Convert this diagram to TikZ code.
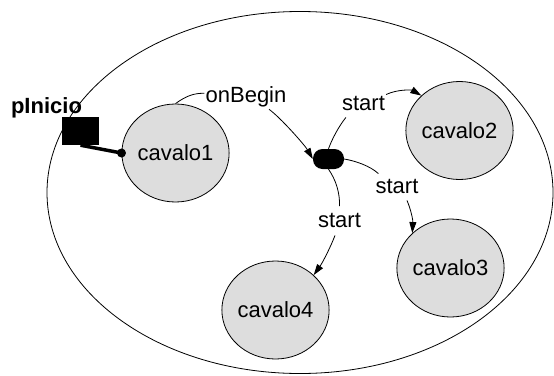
\documentclass[tikz,border=0pt]{standalone}
\usepackage{fontspec}
\setmainfont{Liberation Sans}
\usetikzlibrary{shapes.geometric,arrows.meta,calc}
\definecolor{cavfill}{RGB}{221,221,221}
\begin{document}
\begin{tikzpicture}[x=1pt,y=-1pt,
  every node/.style={font=\fontsize{22pt}{26pt}\selectfont},
  cav/.style={draw,ellipse,fill=cavfill,line width=0.8pt,minimum width=107pt,minimum height=98pt,inner sep=0pt},
  lab/.style={anchor=base,inner sep=1pt},
  conn/.style={line width=0.8pt},
  arr/.style={conn,-{Triangle[length=11pt,width=7pt]}}]
\useasboundingbox (0,0) rectangle (554,375);
\node[draw,ellipse,line width=0.8pt,minimum width=506pt,minimum height=362pt,inner sep=0pt] (outer) at (300,192.5) {};
\node[cav] (c1) at (175.5,153) {cavalo1};
\node[cav] (c2) at (459.5,130.5) {cavalo2};
\node[cav] (c3) at (450.5,268) {cavalo3};
\node[cav] (c4) at (275.5,310) {cavalo4};
\node[fill=black,rounded corners=9.5pt,minimum width=31pt,minimum height=20pt,inner sep=0pt] (blk) at (328.5,159) {};
% port
\node[fill=black,circle,minimum size=9pt,inner sep=0pt] (dot) at (c1.west) {};
\node[fill=black,minimum width=37pt,minimum height=28pt,inner sep=0pt] (box) at (80.5,131) {};
\draw[line width=3.5pt] (box.south) -- (dot.center);
\node[lab,font=\fontsize{22pt}{26pt}\selectfont\bfseries] (pl) at (46.5,113) {pInicio};
% labels
\node[lab] (lb0) at (246,102.5) {onBegin};
\node[lab] (lb1) at (363.5,110) {start};
\node[lab] (lb2) at (397,193) {start};
\node[lab] (lb3) at (339.5,227) {start};
% connectors
\draw[conn] (c1.north) .. controls (186,96) and (194,93) .. ([yshift=3.5pt]lb0.west);
\draw[arr] ([xshift=23pt,yshift=-1pt]lb0.south) .. controls (281,118) and (305,145.5) .. (blk.west);
\draw[conn] (blk.north) .. controls (332,139) and (339,126) .. ([shift={(5pt,-6pt)}]lb1.south west);
\draw[arr] ([yshift=8.5pt]lb1.east) .. controls (398,89) and (412,90) .. (c2.north west);
\draw[conn] (blk.east) .. controls (356,161) and (370,166) .. ([shift={(4pt,4pt)}]lb2.north west);
\draw[arr] ([shift={(10pt,-6pt)}]lb2.south) .. controls (411,210) and (413,220) .. (c3.north west);
\draw[conn] (blk.south) .. controls (336,180) and (340,193) .. ([yshift=5.4pt]lb3.north);
\draw[arr] ([shift={(-4.5pt,-7pt)}]lb3.south) .. controls (331,246) and (323,262) .. (c4.north east);
\end{tikzpicture}
\end{document}
